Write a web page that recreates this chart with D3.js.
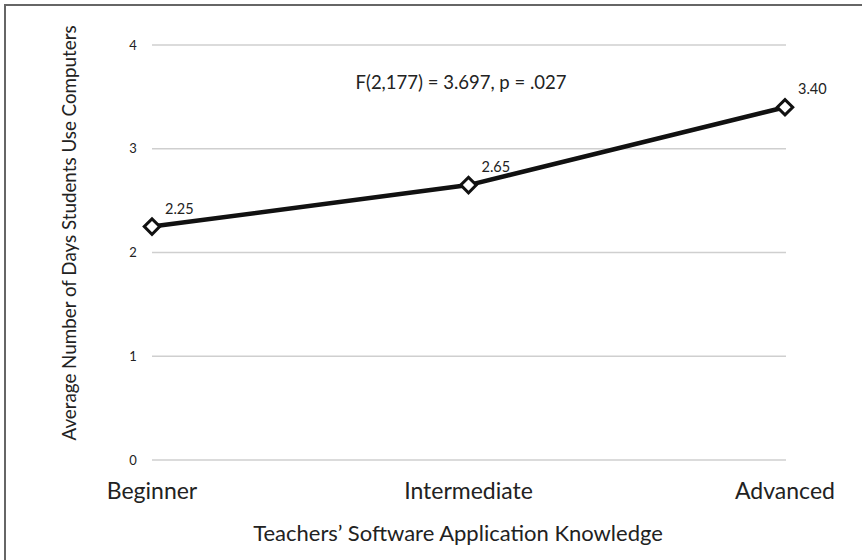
<!DOCTYPE html>
<html>
<head>
    <style>
        body { margin: 0; background: #fff; }
        text { font-family: Lato, "Open Sans", sans-serif; fill: #222; }
        .grid line { stroke: #cfcfcf; stroke-width: 1.5px; }
    </style>
</head>
<body>
<div id="chart"></div>
<script src="https://d3js.org/d3.v7.min.js"></script>
<script>
    // data
    var categories = ["Beginner", "Intermediate", "Advanced"];
    var values = [2.25, 2.65, 3.40];
    var valueLabels = ["2.25", "2.65", "3.40"];
    var yTicks = [0, 1, 2, 3, 4];
    var note = "F(2,177) = 3.697, p = .027";

    var width = 862, height = 560;

    var svg = d3.select("#chart").append("svg")
        .attr("width", width)
        .attr("height", height);

    // outer frame (only top and left edges show in the picture)
    svg.append("rect")
        .attr("x", 5).attr("y", 5)
        .attr("width", width + 10).attr("height", height + 10)
        .attr("fill", "none")
        .attr("stroke", "#666")
        .attr("stroke-width", 2);

    var x = d3.scalePoint().domain(categories).range([152, 785]);
    var y = d3.scaleLinear().domain([0, 4]).range([460, 45]);

    // gridlines
    svg.append("g").attr("class", "grid")
        .selectAll("line")
        .data(yTicks)
        .enter().append("line")
        .attr("x1", 152).attr("x2", 786)
        .attr("y1", function(d) { return y(d); })
        .attr("y2", function(d) { return y(d); });

    // y tick labels
    svg.append("g")
        .selectAll("text")
        .data(yTicks)
        .enter().append("text")
        .attr("x", 133)
        .attr("y", function(d) { return y(d); })
        .attr("dy", "0.35em")
        .attr("text-anchor", "middle")
        .style("font-size", "13px")
        .text(function(d) { return d; });

    // x category labels
    svg.append("g")
        .selectAll("text")
        .data(categories)
        .enter().append("text")
        .attr("x", function(d) { return x(d); })
        .attr("y", 499)
        .attr("text-anchor", "middle")
        .style("font-size", "23px")
        .text(function(d) { return d; });

    // axis titles
    svg.append("text")
        .attr("x", 458).attr("y", 541)
        .attr("text-anchor", "middle")
        .style("font-size", "22px")
        .text("Teachers\u2019 Software Application Knowledge");

    svg.append("text")
        .attr("transform", "translate(76,233) rotate(-90)")
        .attr("text-anchor", "middle")
        .style("font-size", "18.8px")
        .text("Average Number of Days Students Use Computers");

    // annotation
    svg.append("text")
        .attr("x", 461).attr("y", 89)
        .attr("text-anchor", "middle")
        .style("font-size", "18.5px")
        .text(note);

    // line
    var line = d3.line()
        .x(function(d, i) { return x(categories[i]); })
        .y(function(d) { return y(d); });

    svg.append("path")
        .datum(values)
        .attr("d", line)
        .attr("fill", "none")
        .attr("stroke", "#111")
        .attr("stroke-width", 4.5);

    // diamond markers
    var diamond = d3.symbol().type(d3.symbolSquare).size(120);
    svg.selectAll(".marker")
        .data(values)
        .enter().append("path")
        .attr("class", "marker")
        .attr("d", diamond)
        .attr("transform", function(d, i) {
            return "translate(" + x(categories[i]) + "," + y(d) + ") rotate(45)";
        })
        .attr("fill", "#fff")
        .attr("stroke", "#111")
        .attr("stroke-width", 3);

    // value labels
    svg.selectAll(".vlabel")
        .data(values)
        .enter().append("text")
        .attr("class", "vlabel")
        .attr("x", function(d, i) { return x(categories[i]) + 13; })
        .attr("y", function(d) { return y(d) - 13; })
        .style("font-size", "14.5px")
        .text(function(d, i) { return valueLabels[i]; });
</script>
</body>
</html>
